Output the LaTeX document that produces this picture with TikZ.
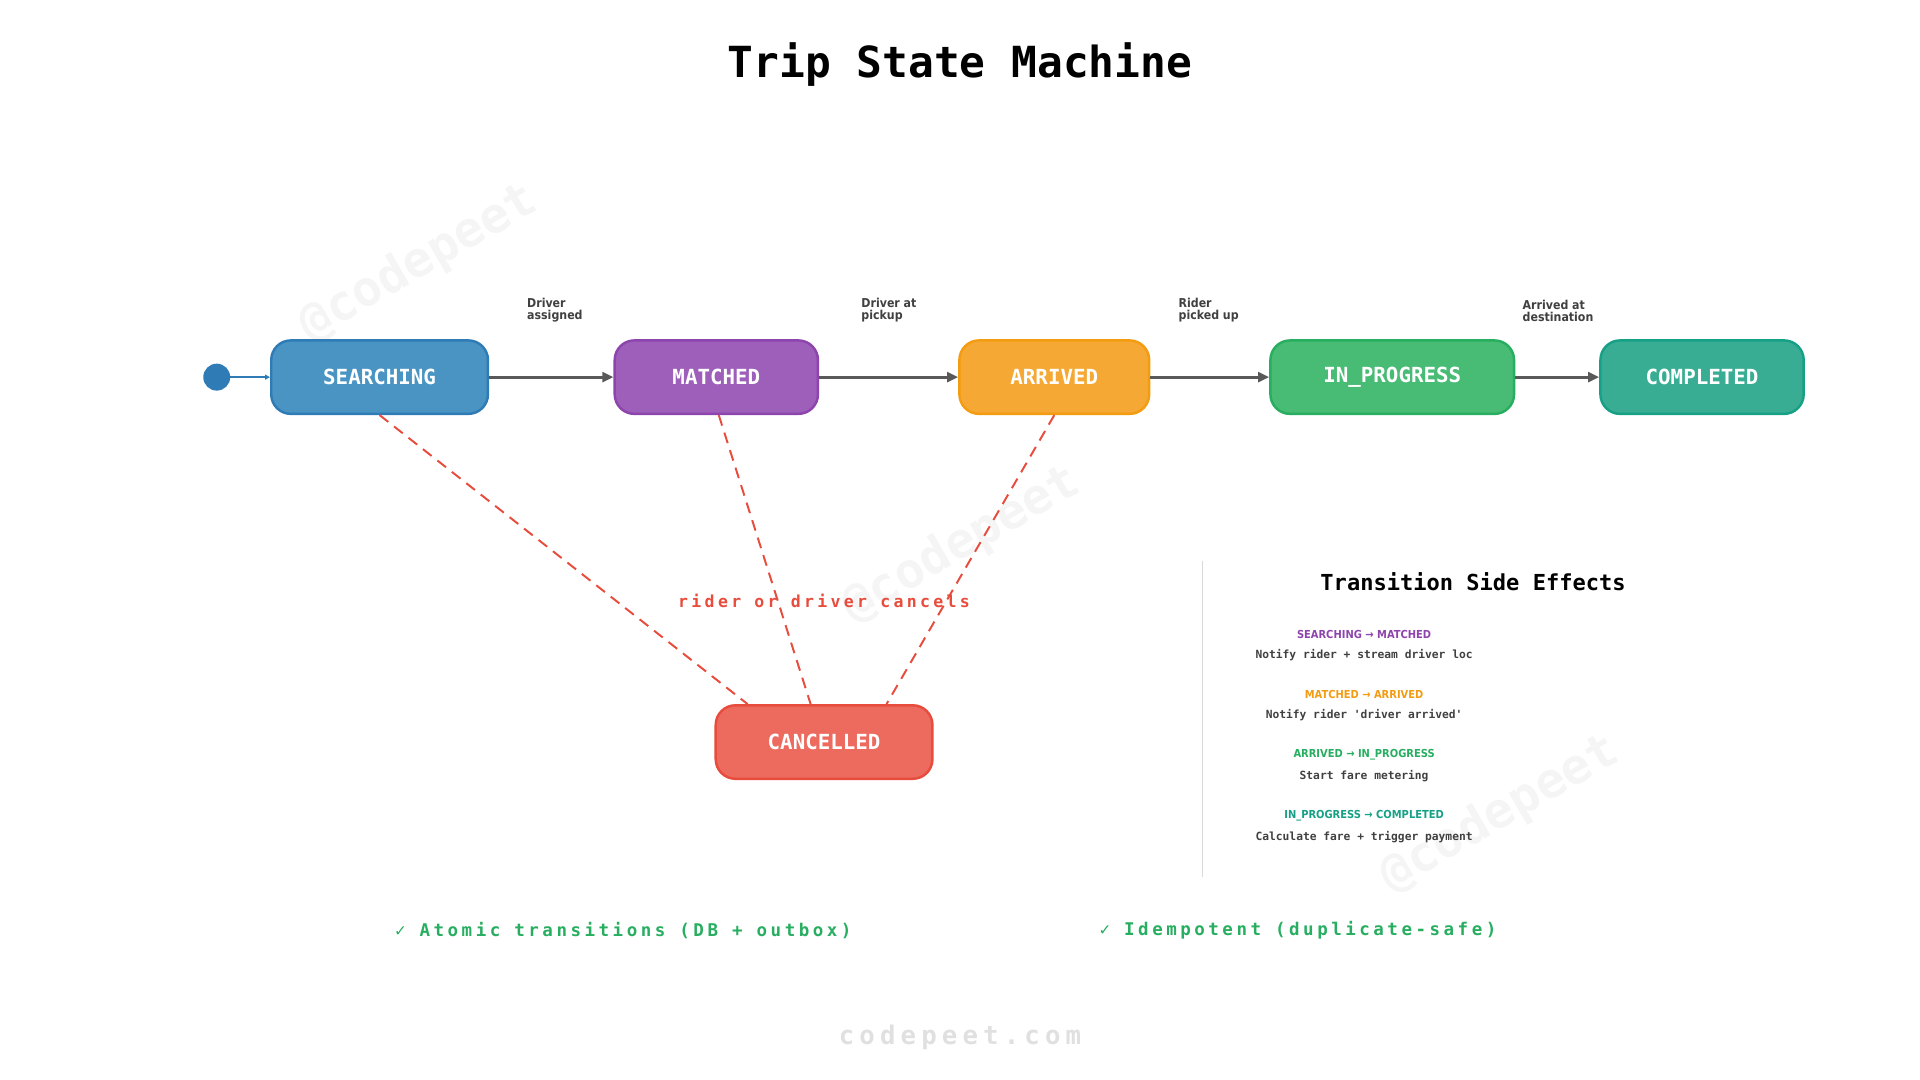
\documentclass[tikz,border=0pt]{standalone}
\usepackage{fontspec}
\setmonofont{DejaVu Sans Mono}
\newfontfamily\spaced{DejaVu Sans Mono}[LetterSpace=20]
\newfontfamily\narrow{DejaVu Sans Condensed}
\usetikzlibrary{arrows.meta}
\definecolor{cblue}{HTML}{4A94C4}\definecolor{dblue}{HTML}{2E7BB5}
\definecolor{cpurple}{HTML}{9D5FBA}\definecolor{dpurple}{HTML}{8E44AD}
\definecolor{corange}{HTML}{F5A833}\definecolor{dorange}{HTML}{F39C12}
\definecolor{cgreen}{HTML}{48BB74}\definecolor{dgreen}{HTML}{27AE60}
\definecolor{cteal}{HTML}{38AD93}\definecolor{dteal}{HTML}{16A085}
\definecolor{cred}{HTML}{EC6A5E}\definecolor{dred}{HTML}{E74C3C}
\begin{document}
\begin{tikzpicture}[x=1pt,y=-1pt,
    state/.style={draw,line width=2pt,rounded corners=16pt,minimum height=60pt,
      text=white,font=\ttfamily\bfseries\fontsize{17}{19}\selectfont},
    flow/.style={-{Triangle[length=9pt,width=8pt]},line width=2.5pt,draw=black!65},
    cancel/.style={dashed,dash pattern=on 9pt off 6pt,line width=1.6pt,draw=dred},
    lbl/.style={align=left,anchor=west,text=black!75,font=\narrow\bfseries\fontsize{10}{10}\selectfont},
    fx/.style={font=\narrow\bfseries\fontsize{9}{10}\selectfont},
    fxd/.style={text=black!75,font=\ttfamily\bfseries\fontsize{9.2}{10}\selectfont},
    wmark/.style={text=black!4,rotate=30,font=\ttfamily\bfseries\fontsize{40}{40}\selectfont}]
  \useasboundingbox (0,0) rectangle (1568,882);
  % watermarks
  \path (342,215) node [wmark] (wm1) {@codepeet};
  \path (785,445) node [wmark] (wm2) {@codepeet};
  \path (1225,665) node [wmark] (wm3) {@codepeet};
  \path (784,53) node [font=\ttfamily\bfseries\fontsize{35}{38}\selectfont] (title) {Trip State Machine};
  % states
  \path (177,308) node [circle,fill=dblue,minimum size=22pt,inner sep=0pt] (start) {};
  \path (310,308) node [state,fill=cblue,draw=dblue,minimum width=177pt] (searching) {SEARCHING};
  \path (585,308) node [state,fill=cpurple,draw=dpurple,minimum width=166pt] (matched) {MATCHED};
  \path (861,308) node [state,fill=corange,draw=dorange,minimum width=155pt] (arrived) {ARRIVED};
  \path (1137,308) node [state,fill=cgreen,draw=dgreen,minimum width=199pt] (progress) {IN\_PROGRESS};
  \path (1390,308) node [state,fill=cteal,draw=dteal,minimum width=166pt] (completed) {COMPLETED};
  \path (673,606) node [state,fill=cred,draw=dred,minimum width=177pt] (cancelled) {CANCELLED};
  \draw [-{Triangle[length=4pt,width=4pt]},line width=1.3pt,dblue] (start) -- (searching);
  \draw [flow] (searching) -- (matched);
  \draw [flow] (matched) -- (arrived);
  \draw [flow] (arrived) -- (progress);
  \draw [flow] (progress) -- (completed);
  % transition labels
  \path (427,253) node [lbl] (l1) {Driver\\assigned};
  \path (700,253) node [lbl] (l2) {Driver at\\pickup};
  \path (959,253) node [lbl] (l3) {Rider\\picked up};
  \path (1240,254) node [lbl] (l4) {Arrived at\\destination};
  % cancellations
  \draw [cancel] (searching.south) -- ([xshift=27pt]cancelled.north west);
  \draw [cancel] ([xshift=2pt]matched.south) -- ([xshift=-11pt]cancelled.north);
  \draw [cancel] (arrived.south) -- ([xshift=51pt]cancelled.north);
  \path (673,491) node [text=dred,font=\spaced\bfseries\fontsize{13.5}{14}\selectfont] (why) {rider or driver cancels};
  % side effects
  \draw [black!15,line width=1pt] (982,458) coordinate (top) -- (982,716) coordinate (bot);
  \path (1203,475) node [font=\ttfamily\bfseries\fontsize{18}{20}\selectfont] (fxtitle) {Transition Side Effects};
  \path (1114,518) node [fx,text=dpurple] (f1) {SEARCHING → MATCHED};
  \path (1114,535) node [fxd] (d1) {Notify rider + stream driver loc};
  \path (1114,567) node [fx,text=dorange] (f2) {MATCHED → ARRIVED};
  \path (1114,584) node [fxd] (d2) {Notify rider 'driver arrived'};
  \path (1114,616) node [fx,text=dgreen] (f3) {ARRIVED → IN\_PROGRESS};
  \path (1114,634) node [fxd] (d3) {Start fare metering};
  \path (1114,666) node [fx,text=dteal] (f4) {IN\_PROGRESS → COMPLETED};
  \path (1114,684) node [fxd] (d4) {Calculate fare + trigger payment};
  % footer
  \path (509,760) node [text=dgreen,font=\spaced\bfseries\fontsize{14.3}{15}\selectfont] (atomic) {✓ Atomic transitions (DB + outbox)};
  \path (1060,760) node [text=dgreen,font=\spaced\bfseries\fontsize{14.3}{15}\selectfont] (idem) {✓ Idempotent (duplicate-safe)};
  \path (784,847) node [text=black!12,font=\spaced\bfseries\fontsize{21}{22}\selectfont] (site) {codepeet.com};
\end{tikzpicture}
\end{document}
